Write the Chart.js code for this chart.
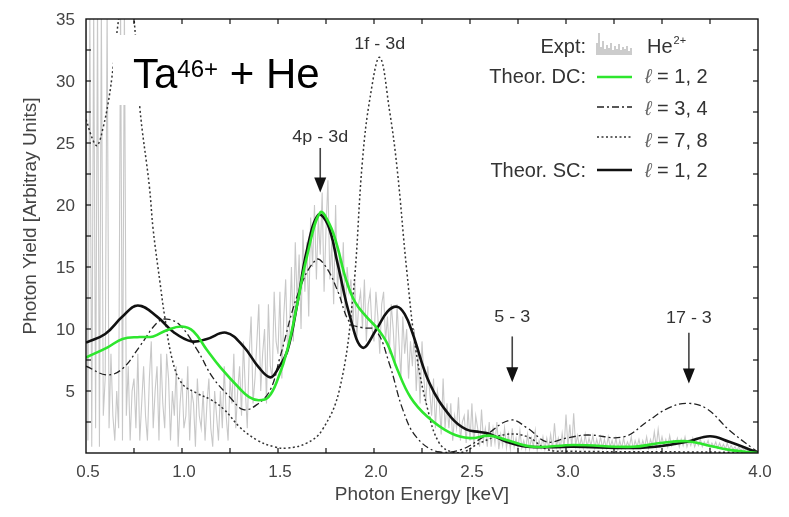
<!DOCTYPE html>
<html lang="en">
<head>
    <meta charset="UTF-8">
    <title>Ta46+ + He - Photon Yield</title>
    <script src="https://cdn.jsdelivr.net/npm/chart.js"></script>
    <style>
        body { margin: 0; background: #fff; }
        #wrap { width: 789px; height: 517px; }
    </style>
</head>
<body>
<div id="wrap"><canvas id="yieldChart" width="789" height="517"></canvas></div>
<script>
    // experimental He2+ spectrum, one value every 0.01 keV from 0.50 keV
    const exptStart = 0.5, exptStep = 0.01;
    const exptY = [
        36,1,36,0.5,36,2,36,0.5,36,3,
        6,36,2,8,3,1,5,2,36,1,
        36,3,7,1,5,6,2,8,1,4,
        7,3,1,6,9,2,5,7,1,8,
        4,2,8,6,1,5,3,7,0.5,4,
        6,2,3,7,1,5,4,0.5,6,3,
        2,5,1,4,6,2,0.5,5,3,1,
        5,2,7,3,1,6,4,8,2,5,
        7,3,9,5,2,8,11,4,6,9,
        12,5,8,10,4,12,7,6,13,9,
        8,13,6,11,14,8,10,15,9,17,
        12,16,10,18,13,17,11,19,15,20,
        14,19,16,21,13,18,22,14,17,12,
        20,13,16,12,17,11,15,13,14,10,
        14,9,12,13,10,14,9,12,13,10,
        9,13,11,8,12,13,9,11,8,12,
        10,7,12,9,6,11,8,10,6,9,
        7,10,5,8,4,9,6,4,7,5,
        3,6,2,5,4,1.5,6,2,4,2,
        4,1,3,2,4.5,1,2.5,3,0.8,3.5,
        1,4,0.5,3,2,0.5,3.5,1,2,0.5,
        2.5,0.5,2,0.8,2.5,0.3,1.5,0.6,2,0.4,
        1.5,0.3,2,0.5,1.2,0.3,1.8,0.4,1,0.3,
        1.5,0.3,1.2,0.5,1.8,0.2,1,0.4,1.3,0.3,
        1.2,0.4,1.5,0.3,2.4,0.5,1.2,0.3,1.6,0.4,
        3.1,0.5,2.3,0.4,3.2,0.6,1.4,0.5,1.2,0.4,
        1.5,0.5,1.2,0.6,1.4,0.4,1.1,0.5,1.3,0.4,
        1.1,0.4,1.3,0.5,1,0.4,1.2,0.3,1,0.4,
        1.2,0.4,0.9,0.5,1.3,0.3,1,0.5,1.1,0.4,
        1,0.5,1.3,0.4,1.1,0.6,1.7,0.5,1.9,0.6,
        1.3,0.6,1.1,0.5,1.4,0.6,1,0.7,1.2,0.5,
        1.1,0.6,1.3,0.5,1,0.6,1.2,0.5,0.9,0.6,
        1.1,0.5,0.9,0.6,1,0.4,0.8,0.5,0.9,0.4,
        0.8,0.4,0.7,0.3,0.8,0.3,0.6,0.3,0.5,0.2,
        0.5,0.2,0.4,0.2,0.4,0.1,0.3,0.1,0.2,0.1,
        0
    ];

    // theory curves [energy keV, yield]
    const dcL12 = [[0.5,7.7],[0.61,8.5],[0.69,9.2],[0.78,9.35],[0.85,9.4],[0.92,9.9],[1.0,10.2],[1.06,9.8],
        [1.13,8.3],[1.2,6.9],[1.3,5.2],[1.35,4.5],[1.4,4.25],[1.45,4.5],[1.5,6.0],[1.55,8.4],[1.6,12.0],
        [1.65,15.8],[1.72,19.4],[1.77,18.4],[1.81,16.6],[1.85,14.2],[1.9,12.2],[1.96,11.0],[2.02,10.0],
        [2.07,8.8],[2.12,6.8],[2.19,4.5],[2.28,2.9],[2.4,1.6],[2.5,1.2],[2.6,1.4],[2.69,1.05],[2.83,0.5],
        [3.04,0.65],[3.35,0.5],[3.49,0.8],[3.63,0.95],[3.73,0.65],[3.85,0.25],[4.0,0]];
    const dcL34 = [[0.5,7.0],[0.61,6.3],[0.69,6.8],[0.78,8.6],[0.87,10.5],[0.92,10.8],[0.99,10.3],[1.08,8.3],
        [1.16,6.1],[1.25,4.5],[1.32,3.5],[1.39,3.9],[1.46,5.1],[1.51,7.7],[1.61,13.1],[1.70,15.6],[1.75,15.0],
        [1.81,13.1],[1.875,10.5],[1.94,10.1],[2.01,9.9],[2.08,7.2],[2.15,3.5],[2.22,1.3],[2.33,0.1],[2.45,0.25],
        [2.57,1.3],[2.71,2.65],[2.8,2.0],[2.9,0.9],[3.0,1.2],[3.11,1.45],[3.3,1.3],[3.42,2.5],[3.53,3.6],
        [3.63,4.0],[3.73,3.6],[3.85,1.85],[3.97,0.4],[4.0,0.1]];
    const dcL78 = [[0.5,26.9],[0.54,25.1],[0.56,24.8],[0.59,26.3],[0.615,28.2],[0.635,30.3],[0.67,35],[0.71,39],
        [0.75,35],[0.78,27.9],[0.83,21.5],[0.85,18.0],[0.885,13.8],[0.91,11.0],[0.95,7.5],[1.0,5.6],[1.08,4.8],
        [1.15,4.3],[1.22,3.5],[1.3,2.1],[1.39,1.05],[1.48,0.5],[1.55,0.4],[1.65,0.8],[1.73,1.85],[1.82,5.1],
        [1.89,12.6],[1.94,23.6],[1.98,28.7],[2.03,31.9],[2.08,27.7],[2.12,23.0],[2.17,14.8],[2.22,8.1],
        [2.28,3.5],[2.34,0.8],[2.41,0.05],[2.47,0.1],[2.55,0.8],[2.69,1.5],[2.8,1.3],[2.9,0.3],[3.0,0.15],
        [3.5,0.1],[4.0,0.05]];
    const scL12 = [[0.5,8.9],[0.6,9.6],[0.69,11.0],[0.77,11.9],[0.87,11.0],[0.96,9.7],[1.05,9.0],[1.13,9.2],
        [1.23,9.7],[1.32,8.6],[1.4,6.9],[1.46,6.1],[1.5,6.8],[1.55,8.3],[1.6,12.0],[1.65,16.3],[1.71,19.2],
        [1.76,18.4],[1.81,15.3],[1.875,11.0],[1.94,8.5],[2.01,9.9],[2.07,11.4],[2.12,11.8],[2.16,11.2],
        [2.2,9.7],[2.29,5.6],[2.4,2.9],[2.48,1.9],[2.55,1.7],[2.6,1.55],[2.69,0.9],[2.8,0.5],[3.04,0.5],
        [3.35,0.4],[3.49,0.55],[3.63,0.9],[3.75,1.35],[3.85,0.9],[3.97,0.2],[4.0,0]];

    const xLabels = [0.5, 1.0, 1.5, 2.0, 2.5, 3.0, 3.5, 4.0];
    const yLabels = [5, 10, 15, 20, 25, 30, 35];
    const xMarks = [0.75, 1.0, 1.25, 1.5, 1.75, 2.0, 2.25, 2.5, 2.75, 3.0, 3.25, 3.5, 3.75];
    const yMarks = [2.5, 5, 7.5, 10, 12.5, 15, 17.5, 20, 22.5, 25, 27.5, 30, 32.5];
    const arrows = [
        { text: '4p - 3d', x: 1.72, label: 25.1, from: 24.6, to: 21.0 },
        { text: '1f - 3d', x: 2.03, label: 32.6 },
        { text: '5 - 3', x: 2.72, label: 10.6, from: 9.4, to: 5.7 },
        { text: '17 - 3', x: 3.64, label: 10.5, from: 9.7, to: 5.6 }
    ];

    const pts = arr => arr.map(p => ({ x: p[0], y: p[1] }));
    const exptPts = exptY.map((v, i) => ({ x: +(exptStart + i * exptStep).toFixed(2), y: v }));
    const FONT = '"Liberation Sans", Arial, sans-serif';

    function txt(ctx, s, x, y, size, align, color, sx) {
        ctx.save();
        ctx.font = size + 'px ' + FONT;
        ctx.fillStyle = color || '#333';
        ctx.textAlign = align || 'left';
        ctx.textBaseline = 'alphabetic';
        ctx.translate(x, y);
        ctx.scale(sx || 1, 1);
        ctx.fillText(s, 0, 0);
        ctx.restore();
    }
    function seg(ctx, x1, y1, x2, y2) {
        ctx.beginPath(); ctx.moveTo(x1, y1); ctx.lineTo(x2, y2); ctx.stroke();
    }

    const deco = {
        id: 'deco',
        afterDatasetsDraw(chart) {
            const { ctx, chartArea: a, scales: { x, y } } = chart;
            ctx.save();
            // frame + inward ticks
            ctx.strokeStyle = '#111';
            ctx.lineWidth = 1.4;
            ctx.strokeRect(a.left, a.top, a.right - a.left, a.bottom - a.top);
            ctx.lineWidth = 1.2;
            xMarks.forEach(v => {
                const px = x.getPixelForValue(v);
                seg(ctx, px, a.bottom, px, a.bottom - 5);
                seg(ctx, px, a.top, px, a.top + 5);
            });
            yMarks.forEach(v => {
                const py = y.getPixelForValue(v);
                seg(ctx, a.left, py, a.left + 5, py);
                seg(ctx, a.right, py, a.right - 5, py);
            });
            // tick labels
            xLabels.forEach(v => txt(ctx, v.toFixed(1), x.getPixelForValue(v) + 2, a.bottom + 24, 17, 'center', '#444'));
            yLabels.forEach(v => txt(ctx, String(v), a.left - 11, y.getPixelForValue(v) + 6, 17, 'right', '#444'));
            // axis titles
            txt(ctx, 'Photon Energy [keV]', (a.left + a.right) / 2, 500, 19, 'center', '#444');
            ctx.save();
            ctx.translate(36, 216);
            ctx.rotate(-Math.PI / 2);
            txt(ctx, 'Photon Yield [Arbitray Units]', 0, 0, 19, 'center', '#444');
            ctx.restore();

            // title box
            ctx.fillStyle = '#fff';
            ctx.fillRect(113, 35, 242, 70);
            ctx.font = '42px ' + FONT;
            const wTa = ctx.measureText('Ta').width;
            txt(ctx, 'Ta', 133, 88, 42, 'left', '#000');
            ctx.font = '24px ' + FONT;
            const wSup = ctx.measureText('46+').width;
            txt(ctx, '46+', 133 + wTa, 77, 24, 'left', '#000');
            txt(ctx, ' + He', 133 + wTa + wSup, 88, 42, 'left', '#000');

            // annotations with arrows
            arrows.forEach(an => {
                const px = x.getPixelForValue(an.x);
                txt(ctx, an.text, px, y.getPixelForValue(an.label), 16, 'center', '#333', 1.12);
                if (an.from !== undefined) {
                    const y1 = y.getPixelForValue(an.from), y2 = y.getPixelForValue(an.to);
                    ctx.strokeStyle = '#444';
                    ctx.lineWidth = 1.6;
                    seg(ctx, px, y1, px, y2 - 12);
                    ctx.fillStyle = '#111';
                    ctx.beginPath();
                    ctx.moveTo(px - 6, y2 - 15); ctx.lineTo(px + 6, y2 - 15); ctx.lineTo(px, y2);
                    ctx.closePath(); ctx.fill();
                }
            });

            // legend
            const lx1 = 597, lx2 = 632, tx = 645, rx = 586;
            txt(ctx, 'Expt:', rx, 53, 20, 'right', '#333');
            ctx.strokeStyle = '#bbb';
            ctx.lineWidth = 1.5;
            const icon = [12, 22, 8, 14, 6, 10, 7, 12, 5, 9, 6, 11, 5, 8, 6, 9, 4, 7];
            icon.forEach((h, i) => seg(ctx, lx1 + i * 2, 55, lx1 + i * 2, 55 - h));
            txt(ctx, 'He', 647, 53, 20, 'left', '#333');
            ctx.font = '20px ' + FONT;
            txt(ctx, '2+', 647 + ctx.measureText('He').width + 1, 44, 11, 'left', '#333');
            const rows = [
                { by: 83, ly: 77, head: 'Theor. DC:', color: '#2ee62e', w: 2.6, dash: [], lab: '= 1, 2' },
                { by: 115, ly: 107, head: '', color: '#222', w: 1.3, dash: [7, 3, 2, 3], lab: '= 3, 4' },
                { by: 147, ly: 137, head: '', color: '#333', w: 1.5, dash: [2, 2.5], lab: '= 7, 8' },
                { by: 177, ly: 170, head: 'Theor. SC:', color: '#111', w: 2.6, dash: [], lab: '= 1, 2' }
            ];
            rows.forEach(r => {
                if (r.head) txt(ctx, r.head, rx, r.by, 20, 'right', '#333');
                ctx.save();
                ctx.strokeStyle = r.color; ctx.lineWidth = r.w; ctx.setLineDash(r.dash);
                seg(ctx, lx1, r.ly, lx2, r.ly);
                ctx.restore();
                ctx.save();
                ctx.font = 'italic 20px ' + FONT;
                ctx.fillStyle = '#666';
                ctx.fillText('\u2113', tx, r.by);
                const wl = ctx.measureText('\u2113').width;
                ctx.restore();
                txt(ctx, ' ' + r.lab, tx + wl, r.by, 20, 'left', '#333');
            });
            ctx.restore();
        }
    };

    const ctx = document.getElementById('yieldChart').getContext('2d');
    new Chart(ctx, {
        type: 'line',
        data: {
            datasets: [
                { label: 'Theor. DC l=1,2', data: pts(dcL12), borderColor: '#2ee62e', borderWidth: 2.6, order: 1 },
                { label: 'Theor. SC l=1,2', data: pts(scL12), borderColor: '#111', borderWidth: 2.6, order: 2 },
                { label: 'l=3,4', data: pts(dcL34), borderColor: '#222', borderWidth: 1.3, borderDash: [7, 3, 2, 3], order: 3 },
                { label: 'l=7,8', data: pts(dcL78), borderColor: '#333', borderWidth: 1.5, borderDash: [2, 2.5], order: 4 },
                { label: 'Expt He2+', data: exptPts, borderColor: '#c8c8c8', borderWidth: 1.1, tension: 0, order: 5 }
            ]
        },
        options: {
            responsive: false,
            animation: false,
            elements: {
                point: { radius: 0 },
                line: { tension: 0.4, fill: false }
            },
            layout: { padding: { left: 86, right: 31, top: 19, bottom: 64 } },
            plugins: { legend: { display: false }, tooltip: { enabled: false } },
            scales: {
                x: { type: 'linear', min: 0.5, max: 4.0, display: false },
                y: { type: 'linear', min: 0, max: 35, display: false }
            }
        },
        plugins: [deco]
    });
</script>
</body>
</html>
